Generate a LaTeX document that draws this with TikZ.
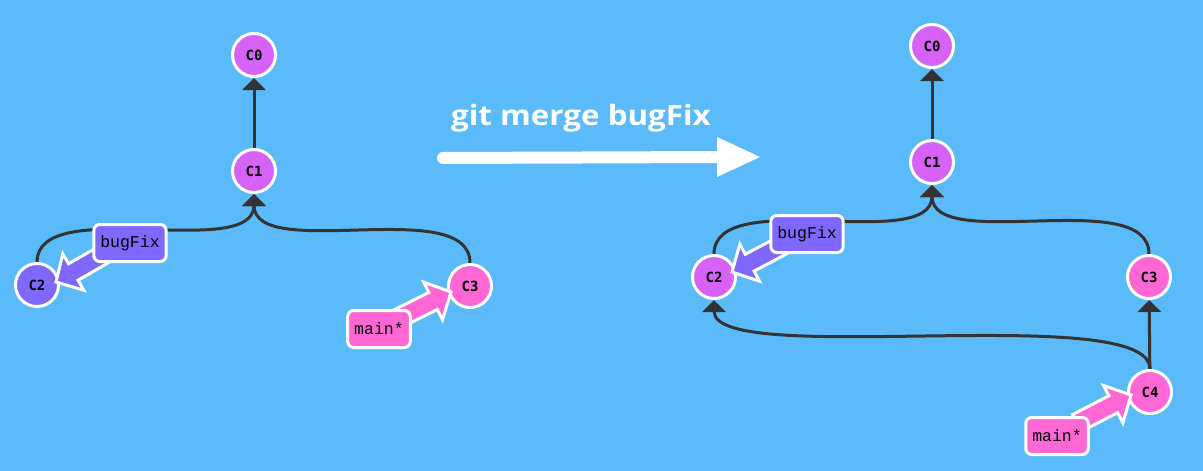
\documentclass[tikz,border=0pt]{standalone}
\usepackage{fontspec}
\setmainfont{Open Sans}
\newfontfamily\monof{Liberation Mono}
\newfontfamily\idf{DejaVu Sans Mono}
\usetikzlibrary{arrows.meta,calc,backgrounds}
\definecolor{bg}{HTML}{5BBAFA}
\definecolor{cpurple}{HTML}{D662F7}
\definecolor{cblue}{HTML}{7F68FF}
\definecolor{cpink}{HTML}{FF68D4}
\definecolor{edgec}{HTML}{333333}
\newcommand\brarrow[3]{%
  \coordinate (hb) at ($(#2)!20pt!(#1)$);
  \fill[#3,draw=white,line width=3pt,line join=miter]
    ($(#1)!9.5pt!90:(#2)$) -- ($(hb)!9.5pt!90:(#2)$) -- ($(hb)!21pt!90:(#2)$) -- (#2)
    -- ($(hb)!21pt!-90:(#2)$) -- ($(hb)!9.5pt!-90:(#2)$) -- ($(#1)!9.5pt!-90:(#2)$) -- cycle;
}
\begin{document}
\begin{tikzpicture}[x=1pt,y=-1pt,
  commit/.style={circle,draw=white,line width=3pt,minimum size=43pt,inner sep=0pt,
    text=black,font={\idf\bfseries\fontsize{14pt}{14pt}\selectfont}},
  branch/.style={rectangle,rounded corners=6pt,draw=white,line width=3pt,inner xsep=6.5pt,
    inner ysep=0pt,minimum height=37pt,text=black,font={\monof\fontsize{16.5pt}{16.5pt}\selectfont}},
  edge/.style={draw=edgec,line width=3pt,-{Triangle[width=23pt,length=12pt]}}]
\begin{scope}[on background layer]
  \fill[bg] (0,0) rectangle (1203,471);
\end{scope}
\useasboundingbox (0,0) rectangle (1203,471);

% left graph
\node[commit,fill=cpurple] (lC0) at (254,55) {C0};
\node[commit,fill=cpurple] (lC1) at (254,171) {C1};
\node[commit,fill=cblue] (lC2) at (37,285) {C2};
\node[commit,fill=cpink] (lC3) at (470,286) {C3};

% right graph
\node[commit,fill=cpurple] (rC0) at (932,46) {C0};
\node[commit,fill=cpurple] (rC1) at (932,162) {C1};
\node[commit,fill=cpurple] (rC2) at (714,277) {C2};
\node[commit,fill=cpink] (rC3) at (1149,277) {C3};
\node[commit,fill=cpink] (rC4) at (1150,392) {C4};

\begin{scope}[on background layer]
  \draw[edge] (lC1) -- (lC0);
  \draw[edge] (lC2.north) .. controls (lC2.north |- lC1.south) and (lC1.south |- lC2.north) .. (lC1.south);
  \draw[edge] (lC3.north) .. controls (lC3.north |- lC1.south) and (lC1.south |- lC3.north) .. (lC1.south);
  \draw[edge] (rC1) -- (rC0);
  \draw[edge] (rC2.north) .. controls (rC2.north |- rC1.south) and (rC1.south |- rC2.north) .. (rC1.south);
  \draw[edge] (rC3.north) .. controls (rC3.north |- rC1.south) and (rC1.south |- rC3.north) .. (rC1.south);
  \draw[edge] (rC4) -- (rC3);
  \draw[edge] (rC4.north) .. controls (rC4.north |- rC2.south) and (rC2.south |- rC4.north) .. (rC2.south);
\end{scope}

% branch labels and arrows
\coordinate (lbf) at (130,243);
\coordinate (lmn) at (379,329);
\coordinate (rbf) at (807,234);
\coordinate (rmn) at (1057,436);
\coordinate (lbfS) at ($(lbf)+(-22,9)$);
\coordinate (lbfE) at ($(lC2)+(19,-3)$);
\coordinate (lmnS) at ($(lmn)+(20,-11)$);
\coordinate (lmnE) at ($(lC3)+(-19,6)$);
\coordinate (rbfS) at ($(rbf)+(-22,10)$);
\coordinate (rbfE) at ($(rC2)+(18,-5)$);
\coordinate (rmnS) at ($(rmn)+(20,-13)$);
\coordinate (rmnE) at ($(rC4)+(-19,3)$);
\brarrow{lbfS}{lbfE}{cblue}
\brarrow{lmnS}{lmnE}{cpink}
\brarrow{rbfS}{rbfE}{cblue}
\brarrow{rmnS}{rmnE}{cpink}
\node[branch,fill=cblue] (lbugfix) at (lbf) {bugFix};
\node[branch,fill=cpink] (lmain) at (lmn) {main*};
\node[branch,fill=cblue] (rbugfix) at (rbf) {bugFix};
\node[branch,fill=cpink] (rmain) at (rmn) {main*};

% command
\node[anchor=base,text=white,font={\bfseries\fontsize{28pt}{28pt}\selectfont},inner sep=0pt,xscale=1.12] (title) at (581,125) {git merge bugFix};
\coordinate (aS) at (443,158);
\coordinate (aB) at (720,157);
\coordinate (aE) at (760,157);
\coordinate (aW1) at (717,137);
\coordinate (aW2) at (717,177);
\draw[white,line width=12pt,line cap=round] (aS) -- (aB);
\fill[white] (aW1) -- (aE) -- (aW2) -- cycle;
\end{tikzpicture}
\end{document}
